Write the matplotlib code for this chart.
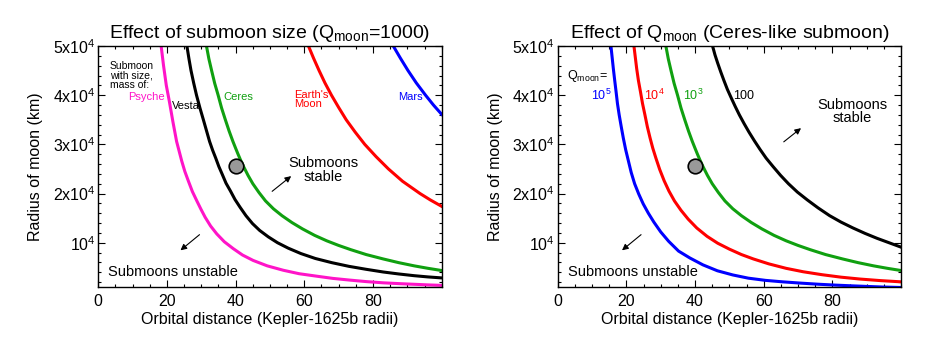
import matplotlib
matplotlib.use("Agg")
import matplotlib.pyplot as plt
from matplotlib.ticker import MultipleLocator

plt.rcParams['font.family'] = ['Liberation Sans', 'DejaVu Sans']
plt.rcParams['mathtext.fontset'] = 'custom'
plt.rcParams['mathtext.rm'] = 'Liberation Sans'
plt.rcParams['mathtext.it'] = 'Liberation Sans'
plt.rcParams['mathtext.default'] = 'regular'

# stability limits: orbital distance (Kepler-1625b radii) vs. moon radius (km)
# left panel: submoon size, Q_moon = 1000
psyche_x = [18.3, 19.0, 19.8, 20.7, 21.7, 22.8, 24.3, 25.2, 26.2, 27.4, 28.7, 29.9, 31.1, 32.7, 34.5,
            36.7, 39.3, 42.0, 45.1, 49.2, 53.9, 58.5, 63.6, 68.3, 73.3, 78.0, 83.0, 87.8, 92.7, 96.3, 100]
psyche_y = [50000, 46000, 42000, 38700, 34700, 30600, 26600, 24500, 22600, 20400, 18500, 16800, 15200, 13400, 11800,
            10200, 8800, 7500, 6400, 5300, 4400, 3700, 3200, 2750, 2400, 2100, 1850, 1680, 1530, 1420, 1330]

vesta_x = [25.8, 26.4, 27.0, 27.8, 28.6, 29.6, 30.6, 31.5, 32.4, 33.3, 34.2, 35.1, 36.1, 37.2, 38.5, 39.8, 41.3,
           43.0, 44.9, 47.0, 49.5, 52.2, 55.3, 59.0, 63.2, 68.0, 73.0, 78.0, 83.0, 87.5, 92.0, 96.0, 100]
vesta_y = [50000, 47400, 45000, 42400, 40000, 37400, 35000, 32800, 30600, 28800, 27200, 25500, 23900, 22100, 20500,
           18800, 17200, 15500, 13900, 12500, 11200, 10000, 8900, 7800, 6800, 5950, 5200, 4600, 4050, 3650, 3300,
           3050, 2850]

ceres_x = [31.5, 32.2, 33.0, 33.9, 34.9, 35.9, 37.0, 38.1, 39.2, 40.0, 40.7, 41.5, 42.3, 43.6, 45.0, 46.8, 48.7,
           51.0, 53.5, 56.4, 59.5, 63.0, 66.5, 70.0, 73.5, 78.0, 83.0, 87.5, 92.0, 96.0, 100]
ceres_y = [50000, 47400, 45000, 42400, 40000, 37400, 35000, 32700, 30600, 29200, 28000, 26700, 25500, 23700, 22000,
           20200, 18500, 16900, 15500, 14100, 12800, 11500, 10400, 9450, 8600, 7600, 6700, 5950, 5300, 4800, 4350]

luna_x = [61.2, 62.7, 64.3, 66.0, 67.9, 70.0, 72.2, 74.8, 77.6, 80.9, 84.5, 88.6, 93.7, 96.7, 100]
luna_y = [50000, 47500, 45000, 42500, 40000, 37500, 35000, 32500, 30000, 27500, 25000, 22500, 20000, 18700, 17400]

mars_x = [85.9, 88.0, 90.2, 92.6, 95.3, 97.6, 100]
mars_y = [50000, 47500, 45000, 42500, 40000, 38000, 36100]

# right panel: Ceres-like submoon, varying Q_moon
q1e5_x = [15.5, 15.85, 16.2, 16.6, 17.0, 17.4, 17.9, 18.5, 19.1, 19.8, 20.6, 21.4, 22.4, 23.6, 24.9, 26.4, 28.0,
          30.0, 32.3, 35.2, 38.5, 42.3, 46.5, 51.0, 55.5, 60.5, 65.5, 71.0, 76.0, 81.0, 86.0, 90.0, 94.5, 100]
q1e5_y = [50000, 47700, 45400, 43000, 40700, 38300, 36000, 33600, 31300, 28900, 26600, 24300, 22000, 19900, 17900,
          16000, 14200, 12200, 10300, 8300, 6900, 5500, 4300, 3450, 2800, 2350, 2050, 1780, 1560, 1380, 1230, 1120,
          1000, 900]

q1e4_x = [22.2, 22.6, 23.0, 23.5, 24.1, 24.7, 25.4, 26.1, 26.9, 27.7, 28.6, 29.7, 31.0, 32.4, 34.0, 35.9, 38.0,
          40.5, 43.5, 46.6, 50.0, 53.5, 57.0, 61.5, 66.5, 71.5, 77.0, 82.5, 88.0, 94.0, 100]
q1e4_y = [50000, 47700, 45400, 43000, 40700, 38300, 36000, 33600, 31300, 29200, 27200, 24900, 22600, 20500, 18500,
          16600, 14800, 13000, 11300, 9900, 8700, 7600, 6700, 5700, 4800, 4100, 3500, 3000, 2620, 2300, 2050]

q1e3_x = ceres_x
q1e3_y = ceres_y

q100_x = [45.1, 45.8, 46.6, 47.5, 48.4, 49.4, 50.5, 51.7, 52.9, 54.3, 55.7, 57.3, 58.9, 60.7, 62.7, 64.9, 67.2,
          69.8, 72.7, 75.8, 79.2, 82.5, 86.0, 89.5, 93.0, 96.5, 100]
q100_y = [50000, 48200, 46500, 44700, 43000, 41200, 39500, 37700, 36000, 34200, 32500, 30700, 29000, 27200, 25500,
          23700, 22000, 20300, 18700, 17100, 15500, 14200, 13000, 11900, 10900, 10000, 9100]

# Kepler-1625b-i
moon_x = 40
moon_y = 25500

ytick_vals = [10000, 20000, 30000, 40000, 50000]
ytick_labels = ['10$^4$', '2x10$^4$', '3x10$^4$', '4x10$^4$', '5x10$^4$']
xtick_vals = [0, 20, 40, 60, 80]

MAGENTA = '#ff14c8'
GREEN = '#10a010'
RED = '#ff0000'
BLUE = '#0000ff'
LW = 2.2

fig = plt.figure(figsize=(9.48, 3.45), dpi=100)
ax1 = fig.add_axes([0.1037, 0.1681, 0.3622, 0.6986])
ax2 = fig.add_axes([0.5883, 0.1681, 0.3622, 0.6986])

for ax in (ax1, ax2):
    ax.set_xlim(0, 100)
    ax.set_ylim(1000, 50000)
    ax.set_xticks(xtick_vals)
    ax.set_yticks(ytick_vals)
    ax.set_yticklabels(ytick_labels)
    ax.xaxis.set_minor_locator(MultipleLocator(5))
    ax.yaxis.set_minor_locator(MultipleLocator(2000))
    ax.tick_params(which='both', direction='in', top=True, right=True, labelsize=11.5, width=0.8)
    ax.tick_params(which='major', length=5)
    ax.tick_params(which='minor', length=2.5)
    ax.tick_params(axis='x', pad=5)
    ax.tick_params(axis='y', pad=2)
    for s in ax.spines.values():
        s.set_linewidth(1.0)
    ax.set_xlabel('Orbital distance (Kepler-1625b radii)', fontsize=11.5)
    ax.set_ylabel('Radius of moon (km)', fontsize=11.5)
    ax.xaxis.set_label_coords(0.5, -0.105)
    ax.yaxis.set_label_coords(-0.16, 0.5)
    ax.plot(moon_x, moon_y, 'o', ms=10.5, mfc='#999999', mec='k', mew=1.2, zorder=5)

# left panel
ax1.plot(psyche_x, psyche_y, color=MAGENTA, lw=LW)
ax1.plot(vesta_x, vesta_y, color='k', lw=LW)
ax1.plot(ceres_x, ceres_y, color=GREEN, lw=LW)
ax1.plot(luna_x, luna_y, color=RED, lw=LW)
ax1.plot(mars_x, mars_y, color=BLUE, lw=LW)
ax1.set_title('Effect of submoon size (Q$_{moon}$=1000)', fontsize=14, pad=6)

ax1.text(3.4, 47000, 'Submoon\nwith size,\nmass of:', fontsize=7.5, va='top', ha='left', linespacing=0.95)
ax1.text(19.4, 39700, 'Psyche', color=MAGENTA, fontsize=8, ha='right', va='center')
ax1.text(21.4, 37700, 'Vesta', color='k', fontsize=8, ha='left', va='center')
ax1.text(36.4, 39700, 'Ceres', color=GREEN, fontsize=8, ha='left', va='center')
ax1.text(57.1, 39100, "Earth's\nMoon", color=RED, fontsize=8, ha='left', va='center', linespacing=0.9)
ax1.text(87.2, 39700, 'Mars', color=BLUE, fontsize=8, ha='left', va='center')

ax1.text(65.5, 24800, 'Submoons\nstable', fontsize=10.5, ha='center', va='center', linespacing=0.95)
ax1.annotate('', xy=(56.8, 23900), xytext=(50.0, 20100),
             arrowprops=dict(arrowstyle='-|>', color='k', lw=0.8, mutation_scale=9))
ax1.text(2.9, 4000, 'Submoons unstable', fontsize=10.5, ha='left', va='center')
ax1.annotate('', xy=(23.3, 8100), xytext=(30.1, 12000),
             arrowprops=dict(arrowstyle='-|>', color='k', lw=0.8, mutation_scale=9))

# right panel
ax2.plot(q1e5_x, q1e5_y, color=BLUE, lw=LW)
ax2.plot(q1e4_x, q1e4_y, color=RED, lw=LW)
ax2.plot(q1e3_x, q1e3_y, color=GREEN, lw=LW)
ax2.plot(q100_x, q100_y, color='k', lw=LW)
ax2.set_title('Effect of Q$_{moon}$ (Ceres-like submoon)', fontsize=14, pad=6)

ax2.text(2.7, 43900, 'Q$_{moon}$=', fontsize=9, ha='left', va='center')
ax2.text(15.7, 40000, '10$^5$', color=BLUE, fontsize=9, ha='right', va='center')
ax2.text(25.1, 40000, '10$^4$', color=RED, fontsize=9, ha='left', va='center')
ax2.text(36.6, 40000, '10$^3$', color=GREEN, fontsize=9, ha='left', va='center')
ax2.text(51.2, 39900, '100', color='k', fontsize=9, ha='left', va='center')

ax2.text(85.7, 36700, 'Submoons\nstable', fontsize=10.5, ha='center', va='center', linespacing=0.95)
ax2.annotate('', xy=(71.5, 33650), xytext=(65.2, 30160),
             arrowprops=dict(arrowstyle='-|>', color='k', lw=0.8, mutation_scale=9))
ax2.text(3.0, 4000, 'Submoons unstable', fontsize=10.5, ha='left', va='center')
ax2.annotate('', xy=(18.1, 8100), xytext=(24.9, 12000),
             arrowprops=dict(arrowstyle='-|>', color='k', lw=0.8, mutation_scale=9))

fig.savefig('out.png', dpi=100)
